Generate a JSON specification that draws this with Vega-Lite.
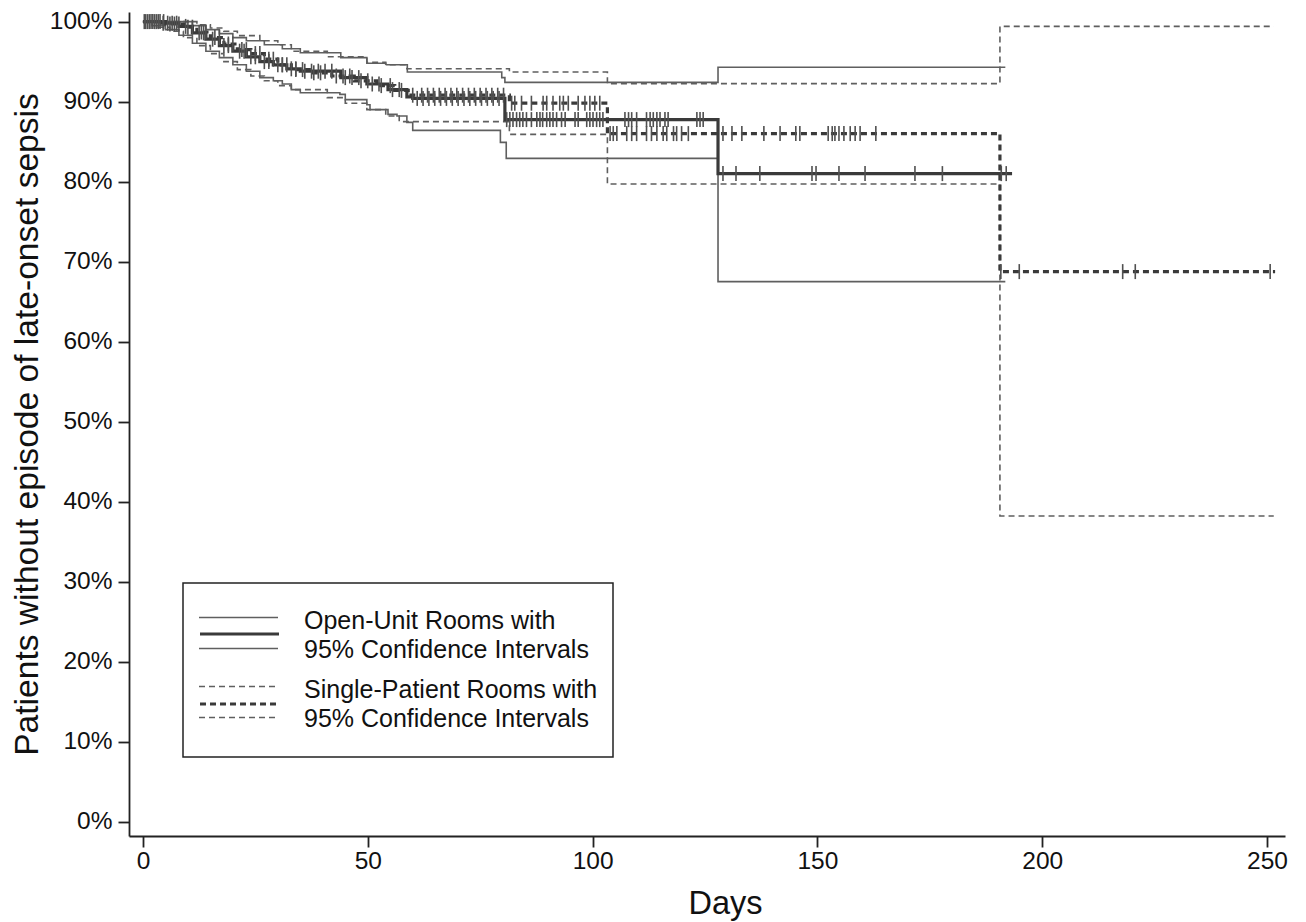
{
  "$schema": "https://vega.github.io/schema/vega-lite/v6.json",
  "width": 1156,
  "height": 824,
  "autosize": {"type": "none"},
  "padding": {"left": 129, "top": 12, "right": 21, "bottom": 86},
  "background": "white",
  "config": {
    "view": {"stroke": null},
    "axis": {
      "grid": false,
      "domainColor": "#222",
      "domainWidth": 1.8,
      "tickColor": "#222",
      "tickWidth": 1.8,
      "tickSize": 11,
      "labelFont": "Liberation Sans",
      "labelFontSize": 24.5,
      "labelColor": "#111",
      "titleFont": "Liberation Sans",
      "titleFontWeight": "normal",
      "titleColor": "#111"
    }
  },
  "datasets": {
    "curves": [
      {"c": "est_open", "g": "Open", "r": "est", "d": 0, "s": 100},
      {"c": "est_open", "g": "Open", "r": "est", "d": 4, "s": 99.8},
      {"c": "est_open", "g": "Open", "r": "est", "d": 8, "s": 99.4},
      {"c": "est_open", "g": "Open", "r": "est", "d": 11, "s": 98.6},
      {"c": "est_open", "g": "Open", "r": "est", "d": 14, "s": 97.8},
      {"c": "est_open", "g": "Open", "r": "est", "d": 17, "s": 97.0},
      {"c": "est_open", "g": "Open", "r": "est", "d": 20, "s": 96.3},
      {"c": "est_open", "g": "Open", "r": "est", "d": 23, "s": 95.6},
      {"c": "est_open", "g": "Open", "r": "est", "d": 26, "s": 95.0},
      {"c": "est_open", "g": "Open", "r": "est", "d": 29, "s": 94.6},
      {"c": "est_open", "g": "Open", "r": "est", "d": 32, "s": 94.1},
      {"c": "est_open", "g": "Open", "r": "est", "d": 35, "s": 93.8},
      {"c": "est_open", "g": "Open", "r": "est", "d": 44, "s": 93.0},
      {"c": "est_open", "g": "Open", "r": "est", "d": 49.8, "s": 92.2},
      {"c": "est_open", "g": "Open", "r": "est", "d": 54.5, "s": 91.5},
      {"c": "est_open", "g": "Open", "r": "est", "d": 58.7, "s": 90.6},
      {"c": "est_open", "g": "Open", "r": "est", "d": 60, "s": 90.4},
      {"c": "est_open", "g": "Open", "r": "est", "d": 80.5, "s": 87.75},
      {"c": "est_open", "g": "Open", "r": "est", "d": 127.9, "s": 81.0},
      {"c": "est_open", "g": "Open", "r": "est", "d": 193.3, "s": 81.0},

      {"c": "lo_open", "g": "Open", "r": "ci", "d": 0, "s": 100},
      {"c": "lo_open", "g": "Open", "r": "ci", "d": 2, "s": 99.5},
      {"c": "lo_open", "g": "Open", "r": "ci", "d": 5, "s": 99.0},
      {"c": "lo_open", "g": "Open", "r": "ci", "d": 8, "s": 98.3},
      {"c": "lo_open", "g": "Open", "r": "ci", "d": 11, "s": 97.3},
      {"c": "lo_open", "g": "Open", "r": "ci", "d": 14, "s": 96.3},
      {"c": "lo_open", "g": "Open", "r": "ci", "d": 17, "s": 95.5},
      {"c": "lo_open", "g": "Open", "r": "ci", "d": 20, "s": 94.6},
      {"c": "lo_open", "g": "Open", "r": "ci", "d": 23, "s": 93.8},
      {"c": "lo_open", "g": "Open", "r": "ci", "d": 26, "s": 93.0},
      {"c": "lo_open", "g": "Open", "r": "ci", "d": 29, "s": 92.6},
      {"c": "lo_open", "g": "Open", "r": "ci", "d": 31, "s": 92.2},
      {"c": "lo_open", "g": "Open", "r": "ci", "d": 33, "s": 91.5},
      {"c": "lo_open", "g": "Open", "r": "ci", "d": 35, "s": 91.1},
      {"c": "lo_open", "g": "Open", "r": "ci", "d": 43.8, "s": 90.9},
      {"c": "lo_open", "g": "Open", "r": "ci", "d": 45, "s": 90.25},
      {"c": "lo_open", "g": "Open", "r": "ci", "d": 49.8, "s": 89.6},
      {"c": "lo_open", "g": "Open", "r": "ci", "d": 50.5, "s": 89.0},
      {"c": "lo_open", "g": "Open", "r": "ci", "d": 54.5, "s": 88.4},
      {"c": "lo_open", "g": "Open", "r": "ci", "d": 56.5, "s": 88.2},
      {"c": "lo_open", "g": "Open", "r": "ci", "d": 58.7, "s": 87.4},
      {"c": "lo_open", "g": "Open", "r": "ci", "d": 60, "s": 86.4},
      {"c": "lo_open", "g": "Open", "r": "ci", "d": 79.5, "s": 84.9},
      {"c": "lo_open", "g": "Open", "r": "ci", "d": 80.8, "s": 82.9},
      {"c": "lo_open", "g": "Open", "r": "ci", "d": 127.9, "s": 67.5},
      {"c": "lo_open", "g": "Open", "r": "ci", "d": 191.8, "s": 67.5},

      {"c": "hi_open", "g": "Open", "r": "ci", "d": 0, "s": 100},
      {"c": "hi_open", "g": "Open", "r": "ci", "d": 11, "s": 99.5},
      {"c": "hi_open", "g": "Open", "r": "ci", "d": 14, "s": 99.0},
      {"c": "hi_open", "g": "Open", "r": "ci", "d": 17, "s": 98.5},
      {"c": "hi_open", "g": "Open", "r": "ci", "d": 20, "s": 98.0},
      {"c": "hi_open", "g": "Open", "r": "ci", "d": 23, "s": 97.6},
      {"c": "hi_open", "g": "Open", "r": "ci", "d": 27, "s": 97.1},
      {"c": "hi_open", "g": "Open", "r": "ci", "d": 31, "s": 96.6},
      {"c": "hi_open", "g": "Open", "r": "ci", "d": 35, "s": 96.1},
      {"c": "hi_open", "g": "Open", "r": "ci", "d": 44, "s": 95.5},
      {"c": "hi_open", "g": "Open", "r": "ci", "d": 49.8, "s": 94.8},
      {"c": "hi_open", "g": "Open", "r": "ci", "d": 54, "s": 94.6},
      {"c": "hi_open", "g": "Open", "r": "ci", "d": 58.8, "s": 93.7},
      {"c": "hi_open", "g": "Open", "r": "ci", "d": 79.8, "s": 93.0},
      {"c": "hi_open", "g": "Open", "r": "ci", "d": 80.5, "s": 92.4},
      {"c": "hi_open", "g": "Open", "r": "ci", "d": 127.9, "s": 94.3},
      {"c": "hi_open", "g": "Open", "r": "ci", "d": 191.8, "s": 94.3},

      {"c": "est_single", "g": "Single", "r": "est", "d": 0, "s": 100},
      {"c": "est_single", "g": "Single", "r": "est", "d": 5, "s": 99.7},
      {"c": "est_single", "g": "Single", "r": "est", "d": 9, "s": 99.3},
      {"c": "est_single", "g": "Single", "r": "est", "d": 12, "s": 98.7},
      {"c": "est_single", "g": "Single", "r": "est", "d": 15, "s": 98.0},
      {"c": "est_single", "g": "Single", "r": "est", "d": 18, "s": 97.2},
      {"c": "est_single", "g": "Single", "r": "est", "d": 21, "s": 96.5},
      {"c": "est_single", "g": "Single", "r": "est", "d": 24, "s": 96.0},
      {"c": "est_single", "g": "Single", "r": "est", "d": 27, "s": 95.3},
      {"c": "est_single", "g": "Single", "r": "est", "d": 30, "s": 94.6},
      {"c": "est_single", "g": "Single", "r": "est", "d": 33, "s": 94.0},
      {"c": "est_single", "g": "Single", "r": "est", "d": 37, "s": 93.6},
      {"c": "est_single", "g": "Single", "r": "est", "d": 42, "s": 93.2},
      {"c": "est_single", "g": "Single", "r": "est", "d": 47, "s": 92.6},
      {"c": "est_single", "g": "Single", "r": "est", "d": 52, "s": 92.0},
      {"c": "est_single", "g": "Single", "r": "est", "d": 56, "s": 91.4},
      {"c": "est_single", "g": "Single", "r": "est", "d": 59, "s": 90.8},
      {"c": "est_single", "g": "Single", "r": "est", "d": 81.5, "s": 89.8},
      {"c": "est_single", "g": "Single", "r": "est", "d": 103.3, "s": 86.0},
      {"c": "est_single", "g": "Single", "r": "est", "d": 190.6, "s": 68.75},
      {"c": "est_single", "g": "Single", "r": "est", "d": 251.8, "s": 68.75},

      {"c": "lo_single", "g": "Single", "r": "ci", "d": 0, "s": 100},
      {"c": "lo_single", "g": "Single", "r": "ci", "d": 3, "s": 99.3},
      {"c": "lo_single", "g": "Single", "r": "ci", "d": 6, "s": 98.8},
      {"c": "lo_single", "g": "Single", "r": "ci", "d": 9, "s": 98.0},
      {"c": "lo_single", "g": "Single", "r": "ci", "d": 12, "s": 97.0},
      {"c": "lo_single", "g": "Single", "r": "ci", "d": 15, "s": 96.0},
      {"c": "lo_single", "g": "Single", "r": "ci", "d": 18, "s": 95.0},
      {"c": "lo_single", "g": "Single", "r": "ci", "d": 21, "s": 94.0},
      {"c": "lo_single", "g": "Single", "r": "ci", "d": 24, "s": 93.2},
      {"c": "lo_single", "g": "Single", "r": "ci", "d": 27, "s": 92.6},
      {"c": "lo_single", "g": "Single", "r": "ci", "d": 30, "s": 92.0},
      {"c": "lo_single", "g": "Single", "r": "ci", "d": 33, "s": 91.5},
      {"c": "lo_single", "g": "Single", "r": "ci", "d": 41, "s": 90.5},
      {"c": "lo_single", "g": "Single", "r": "ci", "d": 45, "s": 89.8},
      {"c": "lo_single", "g": "Single", "r": "ci", "d": 49.8, "s": 89.0},
      {"c": "lo_single", "g": "Single", "r": "ci", "d": 54, "s": 88.2},
      {"c": "lo_single", "g": "Single", "r": "ci", "d": 57, "s": 87.5},
      {"c": "lo_single", "g": "Single", "r": "ci", "d": 81.5, "s": 85.9},
      {"c": "lo_single", "g": "Single", "r": "ci", "d": 103.3, "s": 79.7},
      {"c": "lo_single", "g": "Single", "r": "ci", "d": 190.6, "s": 38.2},
      {"c": "lo_single", "g": "Single", "r": "ci", "d": 251.5, "s": 38.2},

      {"c": "hi_single", "g": "Single", "r": "ci", "d": 0, "s": 100},
      {"c": "hi_single", "g": "Single", "r": "ci", "d": 12, "s": 99.6},
      {"c": "hi_single", "g": "Single", "r": "ci", "d": 15, "s": 99.2},
      {"c": "hi_single", "g": "Single", "r": "ci", "d": 18, "s": 98.8},
      {"c": "hi_single", "g": "Single", "r": "ci", "d": 21, "s": 98.25},
      {"c": "hi_single", "g": "Single", "r": "ci", "d": 26, "s": 97.6},
      {"c": "hi_single", "g": "Single", "r": "ci", "d": 30, "s": 97.1},
      {"c": "hi_single", "g": "Single", "r": "ci", "d": 33, "s": 96.3},
      {"c": "hi_single", "g": "Single", "r": "ci", "d": 41, "s": 95.6},
      {"c": "hi_single", "g": "Single", "r": "ci", "d": 49.8, "s": 94.9},
      {"c": "hi_single", "g": "Single", "r": "ci", "d": 54, "s": 94.6},
      {"c": "hi_single", "g": "Single", "r": "ci", "d": 58.7, "s": 94.1},
      {"c": "hi_single", "g": "Single", "r": "ci", "d": 81.5, "s": 93.7},
      {"c": "hi_single", "g": "Single", "r": "ci", "d": 103.3, "s": 92.25},
      {"c": "hi_single", "g": "Single", "r": "ci", "d": 190.6, "s": 99.4},
      {"c": "hi_single", "g": "Single", "r": "ci", "d": 251.5, "s": 99.4}
    ],
    "censor": [
      {"g": "Open", "d": 0.3, "s": 100}, {"g": "Open", "d": 1, "s": 100}, {"g": "Open", "d": 1.8, "s": 100}, {"g": "Open", "d": 2.6, "s": 100}, {"g": "Open", "d": 3.4, "s": 100},
      {"g": "Open", "d": 4.5, "s": 99.8}, {"g": "Open", "d": 5.5, "s": 99.8}, {"g": "Open", "d": 6.5, "s": 99.8}, {"g": "Open", "d": 7.5, "s": 99.8},
      {"g": "Open", "d": 9.5, "s": 99.4}, {"g": "Open", "d": 12.5, "s": 98.6}, {"g": "Open", "d": 13.5, "s": 98.6}, {"g": "Open", "d": 15.5, "s": 97.8},
      {"g": "Open", "d": 18, "s": 97.0}, {"g": "Open", "d": 19, "s": 97.0}, {"g": "Open", "d": 21.5, "s": 96.3}, {"g": "Open", "d": 22.5, "s": 96.3},
      {"g": "Open", "d": 24, "s": 95.6}, {"g": "Open", "d": 25, "s": 95.6}, {"g": "Open", "d": 27, "s": 95.0}, {"g": "Open", "d": 28, "s": 95.0},
      {"g": "Open", "d": 30, "s": 94.6}, {"g": "Open", "d": 31, "s": 94.6}, {"g": "Open", "d": 33, "s": 94.1}, {"g": "Open", "d": 34, "s": 94.1},
      {"g": "Open", "d": 36, "s": 93.8}, {"g": "Open", "d": 37.5, "s": 93.8}, {"g": "Open", "d": 39, "s": 93.8}, {"g": "Open", "d": 40.5, "s": 93.8}, {"g": "Open", "d": 42, "s": 93.8},
      {"g": "Open", "d": 45, "s": 93.0}, {"g": "Open", "d": 46.5, "s": 93.0}, {"g": "Open", "d": 48, "s": 93.0}, {"g": "Open", "d": 51, "s": 92.2}, {"g": "Open", "d": 52.5, "s": 92.2},
      {"g": "Open", "d": 55.5, "s": 91.5}, {"g": "Open", "d": 57, "s": 91.5},
      {"g": "Open", "d": 61, "s": 90.4}, {"g": "Open", "d": 62.3, "s": 90.4}, {"g": "Open", "d": 63.6, "s": 90.4}, {"g": "Open", "d": 64.9, "s": 90.4}, {"g": "Open", "d": 66.2, "s": 90.4},
      {"g": "Open", "d": 67.5, "s": 90.4}, {"g": "Open", "d": 68.8, "s": 90.4}, {"g": "Open", "d": 70.1, "s": 90.4}, {"g": "Open", "d": 71.4, "s": 90.4}, {"g": "Open", "d": 72.7, "s": 90.4},
      {"g": "Open", "d": 74, "s": 90.4}, {"g": "Open", "d": 75.3, "s": 90.4}, {"g": "Open", "d": 76.6, "s": 90.4}, {"g": "Open", "d": 77.9, "s": 90.4}, {"g": "Open", "d": 79.2, "s": 90.4},
      {"g": "Open", "d": 80.9, "s": 87.75}, {"g": "Open", "d": 81.6, "s": 87.75}, {"g": "Open", "d": 82.3, "s": 87.75}, {"g": "Open", "d": 83.1, "s": 87.75}, {"g": "Open", "d": 83.8, "s": 87.75},
      {"g": "Open", "d": 84.5, "s": 87.75}, {"g": "Open", "d": 85.3, "s": 87.75}, {"g": "Open", "d": 86.4, "s": 87.75}, {"g": "Open", "d": 87.6, "s": 87.75}, {"g": "Open", "d": 88.3, "s": 87.75},
      {"g": "Open", "d": 88.9, "s": 87.75}, {"g": "Open", "d": 89.8, "s": 87.75}, {"g": "Open", "d": 90.5, "s": 87.75}, {"g": "Open", "d": 91.2, "s": 87.75}, {"g": "Open", "d": 92.0, "s": 87.75},
      {"g": "Open", "d": 93.1, "s": 87.75}, {"g": "Open", "d": 93.9, "s": 87.75}, {"g": "Open", "d": 96.1, "s": 87.75}, {"g": "Open", "d": 96.8, "s": 87.75}, {"g": "Open", "d": 98.7, "s": 87.75},
      {"g": "Open", "d": 99.4, "s": 87.75}, {"g": "Open", "d": 100.1, "s": 87.75}, {"g": "Open", "d": 100.9, "s": 87.75}, {"g": "Open", "d": 101.6, "s": 87.75}, {"g": "Open", "d": 102.3, "s": 87.75},
      {"g": "Open", "d": 107.2, "s": 87.75}, {"g": "Open", "d": 108.0, "s": 87.75}, {"g": "Open", "d": 108.7, "s": 87.75}, {"g": "Open", "d": 109.8, "s": 87.75}, {"g": "Open", "d": 112.0, "s": 87.75},
      {"g": "Open", "d": 112.8, "s": 87.75}, {"g": "Open", "d": 113.5, "s": 87.75}, {"g": "Open", "d": 114.3, "s": 87.75}, {"g": "Open", "d": 115.0, "s": 87.75}, {"g": "Open", "d": 116.1, "s": 87.75},
      {"g": "Open", "d": 116.8, "s": 87.75}, {"g": "Open", "d": 123.2, "s": 87.75}, {"g": "Open", "d": 123.9, "s": 87.75}, {"g": "Open", "d": 124.6, "s": 87.75},
      {"g": "Open", "d": 129.0, "s": 81.0}, {"g": "Open", "d": 131.9, "s": 81.0}, {"g": "Open", "d": 137.2, "s": 81.0}, {"g": "Open", "d": 148.8, "s": 81.0}, {"g": "Open", "d": 149.7, "s": 81.0},
      {"g": "Open", "d": 154.8, "s": 81.0}, {"g": "Open", "d": 160.6, "s": 81.0}, {"g": "Open", "d": 171.7, "s": 81.0}, {"g": "Open", "d": 177.8, "s": 81.0}, {"g": "Open", "d": 190.9, "s": 81.0}, {"g": "Open", "d": 192.0, "s": 81.0},

      {"g": "Single", "d": 0.6, "s": 100}, {"g": "Single", "d": 1.4, "s": 100}, {"g": "Single", "d": 2.2, "s": 100}, {"g": "Single", "d": 3, "s": 100}, {"g": "Single", "d": 3.8, "s": 100}, {"g": "Single", "d": 4.6, "s": 100},
      {"g": "Single", "d": 6, "s": 99.7}, {"g": "Single", "d": 7, "s": 99.7}, {"g": "Single", "d": 8, "s": 99.7}, {"g": "Single", "d": 10, "s": 99.3}, {"g": "Single", "d": 11, "s": 99.3},
      {"g": "Single", "d": 13, "s": 98.7}, {"g": "Single", "d": 14, "s": 98.7}, {"g": "Single", "d": 16, "s": 98.0}, {"g": "Single", "d": 17, "s": 98.0},
      {"g": "Single", "d": 19, "s": 97.2}, {"g": "Single", "d": 20, "s": 97.2}, {"g": "Single", "d": 22, "s": 96.5}, {"g": "Single", "d": 23, "s": 96.5},
      {"g": "Single", "d": 25, "s": 96.0}, {"g": "Single", "d": 26, "s": 96.0}, {"g": "Single", "d": 28, "s": 95.3}, {"g": "Single", "d": 29, "s": 95.3},
      {"g": "Single", "d": 31, "s": 94.6}, {"g": "Single", "d": 32, "s": 94.6}, {"g": "Single", "d": 34, "s": 94.0}, {"g": "Single", "d": 35.5, "s": 94.0},
      {"g": "Single", "d": 38, "s": 93.6}, {"g": "Single", "d": 39.5, "s": 93.6}, {"g": "Single", "d": 43, "s": 93.2}, {"g": "Single", "d": 44.5, "s": 93.2}, {"g": "Single", "d": 46, "s": 93.2},
      {"g": "Single", "d": 48.5, "s": 92.6}, {"g": "Single", "d": 50, "s": 92.6}, {"g": "Single", "d": 53, "s": 92.0}, {"g": "Single", "d": 55, "s": 92.0}, {"g": "Single", "d": 57.5, "s": 91.4},
      {"g": "Single", "d": 60, "s": 90.8}, {"g": "Single", "d": 62, "s": 90.8}, {"g": "Single", "d": 63.3, "s": 90.8}, {"g": "Single", "d": 64.6, "s": 90.8}, {"g": "Single", "d": 65.9, "s": 90.8},
      {"g": "Single", "d": 67.2, "s": 90.8}, {"g": "Single", "d": 68.5, "s": 90.8}, {"g": "Single", "d": 69.8, "s": 90.8}, {"g": "Single", "d": 71.1, "s": 90.8}, {"g": "Single", "d": 72.4, "s": 90.8},
      {"g": "Single", "d": 73.7, "s": 90.8}, {"g": "Single", "d": 75, "s": 90.8}, {"g": "Single", "d": 76.3, "s": 90.8}, {"g": "Single", "d": 77.6, "s": 90.8}, {"g": "Single", "d": 78.9, "s": 90.8}, {"g": "Single", "d": 80.2, "s": 90.8},
      {"g": "Single", "d": 82.0, "s": 89.8}, {"g": "Single", "d": 82.7, "s": 89.8}, {"g": "Single", "d": 84.2, "s": 89.8}, {"g": "Single", "d": 86.4, "s": 89.8}, {"g": "Single", "d": 89.0, "s": 89.8},
      {"g": "Single", "d": 89.8, "s": 89.8}, {"g": "Single", "d": 91.2, "s": 89.8}, {"g": "Single", "d": 92.7, "s": 89.8}, {"g": "Single", "d": 93.5, "s": 89.8}, {"g": "Single", "d": 94.6, "s": 89.8},
      {"g": "Single", "d": 96.8, "s": 89.8}, {"g": "Single", "d": 98.3, "s": 89.8}, {"g": "Single", "d": 99.4, "s": 89.8}, {"g": "Single", "d": 100.5, "s": 89.8}, {"g": "Single", "d": 101.6, "s": 89.8},
      {"g": "Single", "d": 103.9, "s": 86.0}, {"g": "Single", "d": 104.6, "s": 86.0}, {"g": "Single", "d": 105.4, "s": 86.0}, {"g": "Single", "d": 107.6, "s": 86.0}, {"g": "Single", "d": 108.7, "s": 86.0},
      {"g": "Single", "d": 109.8, "s": 86.0}, {"g": "Single", "d": 112.0, "s": 86.0}, {"g": "Single", "d": 113.1, "s": 86.0}, {"g": "Single", "d": 114.3, "s": 86.0}, {"g": "Single", "d": 115.7, "s": 86.0},
      {"g": "Single", "d": 116.5, "s": 86.0}, {"g": "Single", "d": 118.0, "s": 86.0}, {"g": "Single", "d": 118.7, "s": 86.0}, {"g": "Single", "d": 119.8, "s": 86.0}, {"g": "Single", "d": 121.3, "s": 86.0},
      {"g": "Single", "d": 129.0, "s": 86.0}, {"g": "Single", "d": 131.0, "s": 86.0}, {"g": "Single", "d": 133.2, "s": 86.0}, {"g": "Single", "d": 138.1, "s": 86.0}, {"g": "Single", "d": 141.7, "s": 86.0},
      {"g": "Single", "d": 145.2, "s": 86.0}, {"g": "Single", "d": 146.1, "s": 86.0}, {"g": "Single", "d": 152.4, "s": 86.0}, {"g": "Single", "d": 153.3, "s": 86.0}, {"g": "Single", "d": 153.9, "s": 86.0},
      {"g": "Single", "d": 154.8, "s": 86.0}, {"g": "Single", "d": 155.9, "s": 86.0}, {"g": "Single", "d": 157.3, "s": 86.0}, {"g": "Single", "d": 158.4, "s": 86.0}, {"g": "Single", "d": 159.5, "s": 86.0}, {"g": "Single", "d": 163.0, "s": 86.0},
      {"g": "Single", "d": 190.8, "s": 68.75}, {"g": "Single", "d": 194.9, "s": 68.75}, {"g": "Single", "d": 217.9, "s": 68.75}, {"g": "Single", "d": 220.7, "s": 68.75}, {"g": "Single", "d": 250.7, "s": 68.75}
    ]
  },
  "layer": [
    {
      "data": {"name": "curves"},
      "transform": [{"filter": "datum.r == 'ci'"}],
      "mark": {"type": "line", "interpolate": "step-after", "color": "#5f5f5f", "strokeWidth": 1.6},
      "encoding": {
        "x": {"field": "d", "type": "quantitative", "scale": {"domain": [-3.1, 254.0], "nice": false, "zero": false},
          "axis": {"values": [0, 50, 100, 150, 200, 250], "labelPadding": 2, "title": "Days", "titleFontSize": 32.5, "titleX": 596, "titleY": 77, "titleAlign": "center", "titleBaseline": "alphabetic", "titleAnchor": null}},
        "y": {"field": "s", "type": "quantitative", "scale": {"domain": [-1.8, 101.2], "nice": false, "zero": false},
          "axis": {"values": [0, 10, 20, 30, 40, 50, 60, 70, 80, 90, 100], "labelExpr": "datum.value + '%'", "labelPadding": 6, "title": "Patients without episode of late-onset sepsis", "titleFontSize": 33.6, "titleAngle": 270, "titleX": -102, "titleY": 412, "titleAlign": "center", "titleBaseline": "middle"}},
        "detail": {"field": "c", "type": "nominal"},
        "strokeDash": {"field": "g", "type": "nominal", "scale": {"range": [[1, 0], [6, 4]]},
          "legend": {
            "title": " ", "titleOrient": "bottom", "titleFontSize": 8, "titlePadding": 2,
            "orient": "none", "legendX": 54, "legendY": 571,
            "symbolType": "M-1,-0.459H1.3235M-1,0.459H1.3235", "symbolSize": 4624, "symbolStrokeWidth": 1.5,
            "symbolStrokeColor": "#5f5f5f", "symbolFillColor": "transparent",
            "labelFont": "Liberation Sans", "labelFontSize": 25, "labelColor": "#111", "labelOffset": 36, "labelLimit": 0,
            "labelExpr": "datum.value == 'Open' ? ['Open-Unit Rooms with', '95% Confidence Intervals'] : ['Single-Patient Rooms with', '95% Confidence Intervals']",
            "rowPadding": 4, "padding": 15,
            "encode": {
              "labels": {"update": {"lineHeight": {"value": 28.5}, "dy": {"value": -12}}},
              "legend": {"update": {"stroke": {"value": "#222"}, "strokeWidth": {"value": 1.5}}}
            }
          }}
      }
    },
    {
      "data": {"name": "curves"},
      "transform": [{"filter": "datum.r == 'est'"}],
      "mark": {"type": "line", "interpolate": "step-after", "strokeWidth": 3.2},
      "encoding": {
        "x": {"field": "d", "type": "quantitative", "scale": {"domain": [-3.1, 254.0], "nice": false, "zero": false}},
        "y": {"field": "s", "type": "quantitative", "scale": {"domain": [-1.8, 101.2], "nice": false, "zero": false}},
        "detail": {"field": "c", "type": "nominal"},
        "strokeDash": {"field": "g", "type": "nominal", "scale": {"range": [[1, 0], [6, 4]]}},
        "color": {"field": "g", "type": "nominal", "scale": {"domain": ["Open", "Single"], "range": ["#3a3a3a", "#3a3a3a"]},
          "legend": {
            "title": null, "orient": "none", "legendX": 54, "legendY": 571,
            "symbolType": "M-1,0H1.3235", "symbolSize": 4624, "symbolStrokeWidth": 3.2, "symbolFillColor": "transparent",
            "labelFont": "Liberation Sans", "labelFontSize": 25, "labelOpacity": 0, "labelOffset": 36, "labelLimit": 0,
            "labelExpr": "datum.value == 'Open' ? ['Open-Unit Rooms with', '95% Confidence Intervals'] : ['Single-Patient Rooms with', '95% Confidence Intervals']",
            "rowPadding": 4, "padding": 15,
            "encode": {
              "labels": {"update": {"lineHeight": {"value": 28.5}, "dy": {"value": -12}}},
              "symbols": {"update": {"strokeDash": {"signal": "datum.value == 'Single' ? [6, 4] : [1, 0]"}}}
            }
          }}
      }
    },
    {
      "data": {"name": "censor"},
      "mark": {"type": "point", "shape": "M0,-1L0,1", "size": 225, "filled": false, "stroke": "#505050", "strokeWidth": 1.6, "opacity": 1},
      "encoding": {
        "x": {"field": "d", "type": "quantitative", "scale": {"domain": [-3.1, 254.0], "nice": false, "zero": false}},
        "y": {"field": "s", "type": "quantitative", "scale": {"domain": [-1.8, 101.2], "nice": false, "zero": false}}
      }
    }
  ]
}
